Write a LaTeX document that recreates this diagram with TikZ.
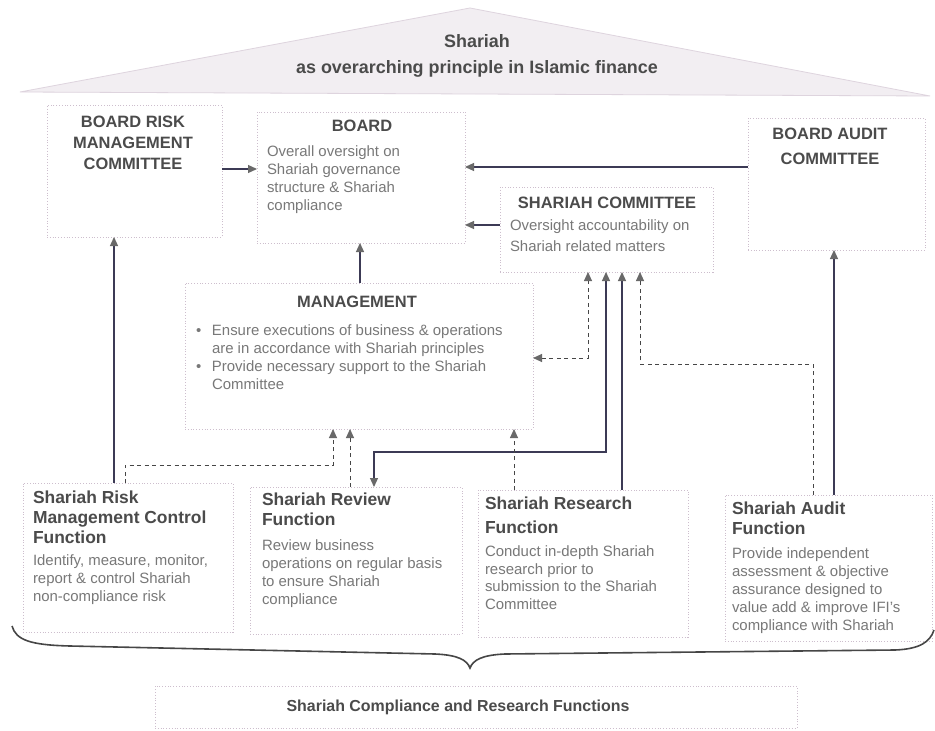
\documentclass[tikz,border=0pt]{standalone}
\usepackage{fontspec}
\setmainfont{Liberation Sans}
\usetikzlibrary{arrows.meta,fit}
\definecolor{boxc}{RGB}{205,190,205}
\definecolor{titc}{RGB}{75,75,75}
\definecolor{bodc}{RGB}{120,120,120}
\definecolor{linec}{RGB}{60,58,85}
\definecolor{dashc}{RGB}{70,70,70}
\definecolor{tipc}{RGB}{105,105,105}
\definecolor{roofc}{RGB}{242,238,242}
\definecolor{roofd}{RGB}{222,212,222}
\definecolor{bracec}{RGB}{70,70,70}
\begin{document}
\begin{tikzpicture}[x=1bp,y=-1bp,
  every node/.style={inner sep=0pt,outer sep=0pt},
  box/.style={draw=boxc,dotted,line width=0.8bp,inner sep=0pt},
  ttl/.style={text=titc,font=\fontsize{16.5}{21}\selectfont\bfseries,align=center},
  ftl/.style={text=titc,font=\fontsize{17.5}{20}\selectfont\bfseries,align=left,anchor=north west},
  body/.style={text=bodc,font=\fontsize{15}{18}\selectfont,align=left,anchor=north west},
  conn/.style={draw=linec,line width=1.2bp,-{Triangle[length=9bp,width=8bp,color=tipc]}},
  conn2/.style={draw=linec,line width=1.2bp,{Triangle[length=9bp,width=8bp,color=tipc]}-{Triangle[length=9bp,width=8bp,color=tipc]}},
  dconn/.style={draw=dashc,line width=0.9bp,dash pattern=on 4bp off 3.5bp,-{Triangle[length=9bp,width=8bp,color=tipc]}},
  dconn2/.style={draw=dashc,line width=0.9bp,dash pattern=on 4bp off 3.5bp,{Triangle[length=9bp,width=8bp,color=tipc]}-{Triangle[length=9bp,width=8bp,color=tipc]}}
]
\useasboundingbox (0,0) rectangle (935,731);
\fill[white] (0,0) rectangle (935,731);
% roof
\filldraw[fill=roofc,draw=roofd,line width=0.8bp] (20,92) -- (470,8) -- (930,96) -- cycle;
\node[ttl,font=\fontsize{18}{26}\selectfont\bfseries] (roof) at (477,56) {Shariah\\as overarching principle in Islamic finance};
% boxes
\node[box,fit={(47,105) (222,237)}] (brmc) {};
\node[box,fit={(257,112) (465,243)}] (board) {};
\node[box,fit={(748,118) (925,250)}] (bac) {};
\node[box,fit={(500,187) (713,272)}] (sc) {};
\node[box,fit={(185,283) (533,429)}] (mgmt) {};
\node[box,fit={(23,483) (233,632)}] (risk) {};
\node[box,fit={(250,487) (462,634)}] (review) {};
\node[box,fit={(478,490) (688,637)}] (research) {};
\node[box,fit={(725,495) (932,641)}] (audit) {};
\node[box,fit={(155,686) (797,728)}] (scrf) {};
% texts
\node[ttl,anchor=north] (brmct) at (133,116) {BOARD RISK\\MANAGEMENT\\COMMITTEE};
\node[ttl] (boardt) at (362,126) {BOARD};
\node[body] (boardb) at (267,146) {Overall oversight on\\Shariah governance\\structure \& Shariah\\compliance};
\node[ttl,font=\fontsize{16.5}{25}\selectfont\bfseries] (bact) at (830,146) {BOARD AUDIT\\COMMITTEE};
\node[ttl] (sct) at (607,203) {SHARIAH COMMITTEE};
\node[body,font=\fontsize{15}{21}\selectfont] (scb) at (510,220) {Oversight accountability on\\Shariah related matters};
\node[ttl] (mgmtt) at (357,302) {MANAGEMENT};
\node[body] (mgmtb) at (196,325) {\makebox[16bp][l]{\textbullet}Ensure executions of business \& operations\\\hspace*{16bp}are in accordance with Shariah principles\\\makebox[16bp][l]{\textbullet}Provide necessary support to the Shariah\\\hspace*{16bp}Committee};
\node[ftl] (riskt) at (33,491) {Shariah Risk\\Management Control\\Function};
\node[body] (riskb) at (33,555) {Identify, measure, monitor,\\report \& control Shariah\\non-compliance risk};
\node[ftl] (reviewt) at (262,493) {Shariah Review\\Function};
\node[body] (reviewb) at (262,540) {Review business\\operations on regular basis\\to ensure Shariah\\compliance};
\node[ftl,font=\fontsize{17.5}{24}\selectfont\bfseries] (researcht) at (485,497) {Shariah Research\\Function};
\node[body,font=\fontsize{15}{17.5}\selectfont] (researchb) at (485,546) {Conduct in-depth Shariah\\research prior to\\submission to the Shariah\\Committee};
\node[ftl] (auditt) at (732,502) {Shariah Audit\\Function};
\node[body] (auditb) at (732,548) {Provide independent\\assessment \& objective\\assurance designed to\\value add \& improve IFI's\\compliance with Shariah};
\node[ttl,font=\fontsize{16}{19}\selectfont\bfseries] (scrft) at (458,707) {Shariah Compliance and Research Functions};
% connectors
\draw[conn] (brmc.east |- 0,169) -- (board.west |- 0,169);
\draw[conn] (bac.west |- 0,167) -- (board.east |- 0,167);
\draw[conn] (sc.west |- 0,225) -- (board.east |- 0,225);
\draw[conn] (mgmt.north -| 360,0) -- (board.south -| 360,0);
\draw[conn] (risk.north -| 114,0) -- (brmc.south -| 114,0);
\draw[dconn] (risk.north -| 125,0) -- (125,465) -- (333,465) -- (mgmt.south -| 333,0);
\draw[dconn] (review.north -| 350,0) -- (mgmt.south -| 350,0);
\draw[conn2] (review.north -| 374,0) -- (374,452) -- (606,452) -- (sc.south -| 606,0);
\draw[dconn2] (mgmt.east |- 0,358) -- (588,358) -- (sc.south -| 588,0);
\draw[conn] (research.north -| 622,0) -- (sc.south -| 622,0);
\draw[dconn] (research.north -| 514,0) -- (mgmt.south -| 514,0);
\draw[dconn] (audit.north -| 813,0) -- (813,364) -- (640,364) -- (sc.south -| 640,0);
\draw[conn] (audit.north -| 834,0) -- (bac.south -| 834,0);
% brace
\draw[bracec,line width=1.6bp] (12,626) .. controls (16,640) and (30,645) .. (70,646) -- (435,654) .. controls (458,655) and (467,660) .. (470,668) .. controls (473,660) and (482,655) .. (505,654) -- (895,650) .. controls (920,649) and (930,642) .. (934,630);
\end{tikzpicture}
\end{document}
